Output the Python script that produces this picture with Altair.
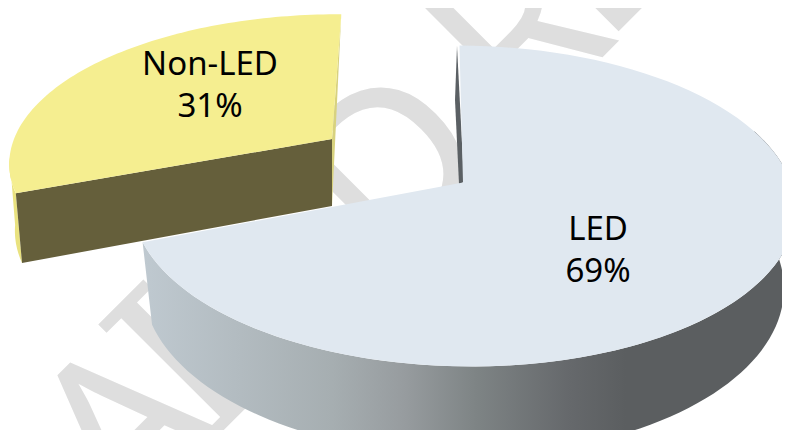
import math
import altair as alt
import pandas as pd

categories = ["LED", "Non-LED"]
shares = [69, 31]
labels = ["LED\n69%", "Non-LED\n31%"]
watermark = ["A", "I", "D", "R", "E"]

W, H = 774, 422
PAD = 8
K = 0.1464
START = -89.5

sweep_led = shares[0] / sum(shares) * 360
mid = START + sweep_led
end = START + 360


def proj(p, phi, r=1.0):
    """Perspective projection of a point of the unit pie disc."""
    x0, y0, a, b, s = p
    u = r * math.cos(math.radians(phi))
    v = r * math.sin(math.radians(phi))
    w = 1 - K * v
    yy = b * v / w
    return x0 + a * u / w + s * yy, y0 + yy


def arc(p, a0, a1, n=90):
    return [proj(p, a0 + (a1 - a0) * i / n) for i in range(n + 1)]


def apex(p):
    return (p[0], p[1])


LED_TOP = (463, 182.5, 328, 157, 0.044)
LED_BOT = (463, 262, 317, 165, 0.02)
YEL_TOP = (332, 139, 318, 143, -0.055)
YEL_BOT = (332, 206, 313, 150, -0.03)

polys = {
    "led_wall": arc(LED_TOP, -20, mid) + arc(LED_BOT, mid, -20),
    "led_inner": [(457, 46), (464, 182), (459, 184), (455, 100)],
    "led_top": [apex(LED_TOP)] + arc(LED_TOP, START, mid),
    "yel_side": [proj(YEL_TOP, end), proj(YEL_BOT, end), apex(YEL_BOT), apex(YEL_TOP)],
    "yel_outer": arc(YEL_TOP, mid, mid + 14, 20) + arc(YEL_BOT, mid + 14, mid, 20),
    "yel_inner": [apex(YEL_TOP), proj(YEL_TOP, mid), proj(YEL_BOT, mid), apex(YEL_BOT)],
    "yel_top": [apex(YEL_TOP)] + arc(YEL_TOP, mid, end),
}

x_enc = alt.X("x:Q", scale=alt.Scale(domain=[PAD, W + PAD], range=[0, W]), axis=None)
y_enc = alt.Y("y:Q", scale=alt.Scale(domain=[PAD, H + PAD], range=[0, H]), axis=None)


def poly(name, fill):
    df = pd.DataFrame(polys[name], columns=["x", "y"])
    df["i"] = range(len(df))
    return alt.Chart(df).mark_line(fill=fill, stroke="transparent", strokeWidth=0).encode(
        x=x_enc, y=y_enc, order="i:Q"
    )


wall_grad = alt.Gradient(
    gradient="linear", x1=0, x2=1, y1=0, y2=0,
    stops=[
        alt.GradientStop(offset=0.0, color="#bfc9d0"),
        alt.GradientStop(offset=0.29, color="#a6aeb1"),
        alt.GradientStop(offset=0.40, color="#979c9f"),
        alt.GradientStop(offset=0.51, color="#7e8485"),
        alt.GradientStop(offset=0.65, color="#66696c"),
        alt.GradientStop(offset=0.74, color="#5b5e60"),
        alt.GradientStop(offset=1.0, color="#5b5e60"),
    ],
)

wm_pos = [(130, 435), (189, 370), (398, 172), (525, 40), (600, -45)]
wm_font = ["Noto Sans", "DejaVu Serif", "Noto Sans", "Noto Sans", "Noto Sans"]
layers = []
for ch, (wx, wy), f in zip(watermark, wm_pos, wm_font):
    layers.append(
        alt.Chart(pd.DataFrame({"t": [ch]})).mark_text(
            angle=315, font=f, fontSize=224, color="#dedede", baseline="middle", align="center"
        ).encode(text="t:N", x=alt.value(wx - PAD), y=alt.value(wy - PAD))
    )

layers += [
    poly("led_wall", wall_grad),
    poly("led_inner", "#5b6064"),
    poly("led_top", "#e0e8f0"),
    poly("yel_side", "#d8d27e"),
    poly("yel_outer", "#e9e27f"),
    poly("yel_inner", "#655f3b"),
    poly("yel_top", "#f5ee90"),
]

label_pos = [(598, 230), (210, 65)]
for lab, (lx, ly) in zip(labels, label_pos):
    layers.append(
        alt.Chart(pd.DataFrame({"t": [lab]})).mark_text(
            font="Noto Sans", fontSize=33, color="#000000", align="center", baseline="middle",
            lineBreak="\n", lineHeight=42,
        ).encode(text="t:N", x=alt.value(lx - PAD), y=alt.value(ly - PAD))
    )

chart = alt.layer(*layers).properties(
    width=W, height=H, autosize=alt.AutoSizeParams(type="none"), padding=0, background="#ffffff"
).configure_view(stroke=None)

chart.save("out.html", embed_options={"renderer": "svg", "actions": False})
